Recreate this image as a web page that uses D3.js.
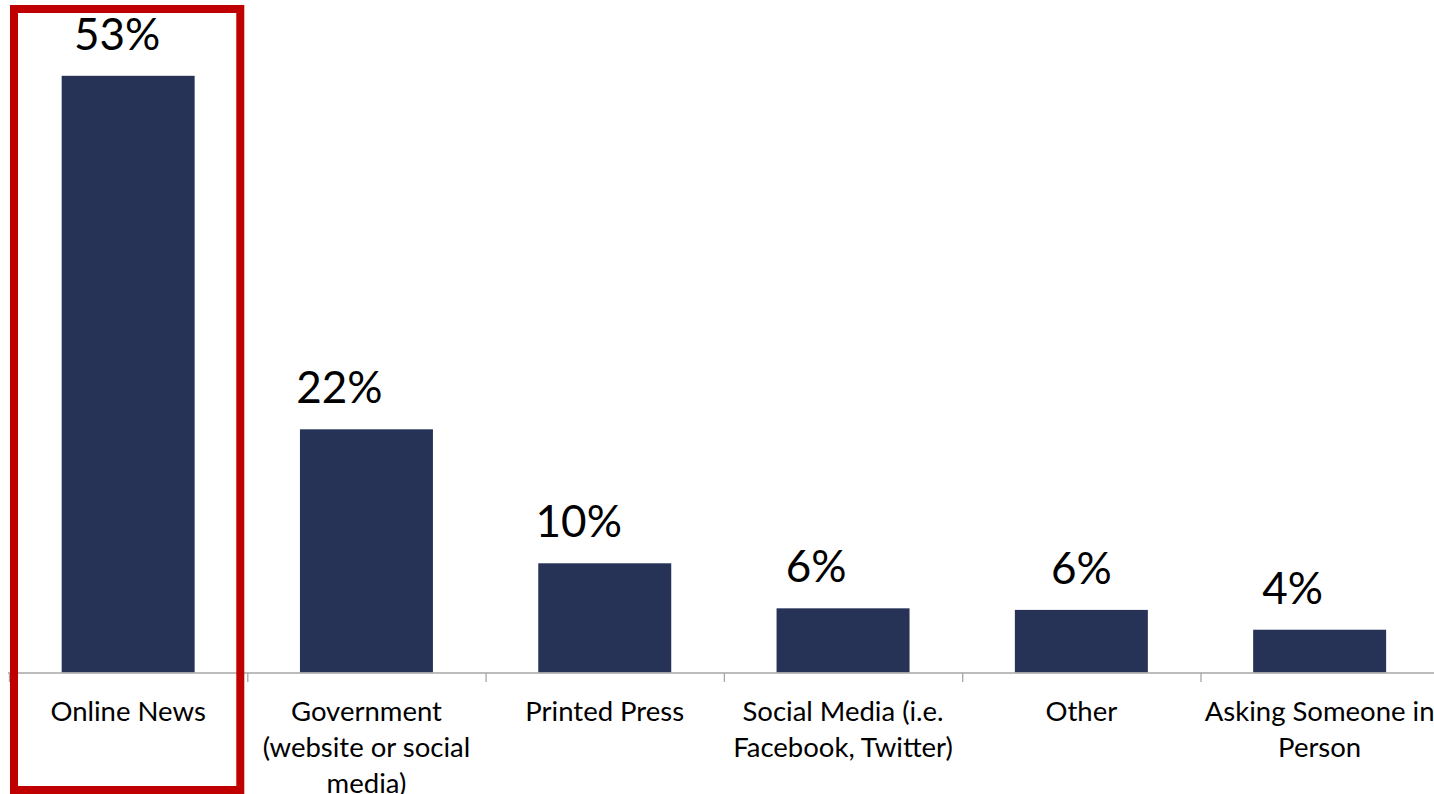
<!DOCTYPE html>
<html>
<head>
<meta charset="utf-8">
<script src="https://cdn.jsdelivr.net/npm/d3@7/dist/d3.min.js"></script>
<style>
  html, body { margin: 0; padding: 0; background: #fff; }
  svg { display: block; }
  text { font-family: Lato, "Open Sans", sans-serif; fill: #000; }
</style>
</head>
<body>
<svg id="chart" width="1434" height="794"></svg>
<script>
// Where people get their information (share of respondents)
const categories = [
  "Online News",
  "Government (website or social media)",
  "Printed Press",
  "Social Media (i.e. Facebook, Twitter)",
  "Other",
  "Asking Someone in Person"
];
const shares = [0.53, 0.216, 0.097, 0.057, 0.0556, 0.038];
const yTicks = [0, 0.1, 0.2, 0.3, 0.4, 0.5, 0.6];

// horizontal nudges of the value labels relative to the bar centres
const labelShift = [-11, -27, -26, -27, 0, -27];

const W = 1434, H = 794;
const plot = { left: 9, right: 9 + 6 * 238.3, top: -3, bottom: 672.5 };

const svg = d3.select("#chart");

const x = d3.scaleBand()
  .domain(categories)
  .range([plot.left, plot.right])
  .paddingInner(0.442)
  .paddingOuter(0.221);

const y = d3.scaleLinear()
  .domain([yTicks[0], yTicks[yTicks.length - 1]])
  .range([plot.bottom, plot.top]);

const step = x.step();
const boundary = d => x(d) - step * x.paddingInner() / 2;

// bars
svg.append("g")
  .selectAll("rect")
  .data(shares)
  .join("rect")
  .attr("x", (d, i) => x(categories[i]))
  .attr("y", d => y(d))
  .attr("width", x.bandwidth())
  .attr("height", d => y(0) - y(d))
  .attr("fill", "#263357");

// category axis: baseline with tick marks at the category boundaries
const axis = svg.append("g")
  .attr("transform", `translate(0,${y(0) + 0.5})`)
  .call(d3.axisBottom(x).tickSize(0).tickFormat("").tickSizeOuter(0));
axis.select(".domain")
  .attr("d", `M${plot.left - 1},0H${W}`)
  .attr("stroke", "#a6a6a6")
  .attr("stroke-width", 1.3);
axis.selectAll(".tick").remove();
axis.selectAll("line.sep")
  .data(categories)
  .join("line")
  .attr("class", "sep")
  .attr("x1", d => boundary(d) + 0.5)
  .attr("x2", d => boundary(d) + 0.5)
  .attr("y1", 0)
  .attr("y2", 9)
  .attr("stroke", "#a6a6a6")
  .attr("stroke-width", 1.3);

// category labels, wrapped to the category width
const catFont = 27.5, lineGap = 36, wrapWidth = step;
const labels = svg.append("g")
  .selectAll("text")
  .data(categories)
  .join("text")
  .attr("x", d => x(d) + x.bandwidth() / 2)
  .attr("y", y(0) + 48)
  .attr("text-anchor", "middle")
  .style("font-size", catFont + "px");

labels.each(function (d) {
  const t = d3.select(this);
  const words = d.split(" ");
  let line = [];
  let tspan = t.append("tspan").attr("x", t.attr("x")).attr("dy", 0);
  words.forEach(w => {
    line.push(w);
    tspan.text(line.join(" "));
    if (tspan.node().getComputedTextLength() > wrapWidth && line.length > 1) {
      line.pop();
      tspan.text(line.join(" "));
      line = [w];
      tspan = t.append("tspan").attr("x", t.attr("x")).attr("dy", lineGap).text(w);
    }
  });
});

// value labels
const fmt = d3.format(".0%");
svg.append("g")
  .selectAll("text")
  .data(shares)
  .join("text")
  .attr("x", (d, i) => x(categories[i]) + x.bandwidth() / 2 + labelShift[i])
  .attr("y", d => y(d) - 26)
  .attr("text-anchor", "middle")
  .style("font-size", "44px")
  .text(d => fmt(d));

// highlight frame round the first category
const first = categories[0];
svg.append("rect")
  .attr("x", boundary(first) + 5)
  .attr("y", 9)
  .attr("width", step - 12)
  .attr("height", 781)
  .attr("fill", "none")
  .attr("stroke", "#c00000")
  .attr("stroke-width", 8);
</script>
</body>
</html>
